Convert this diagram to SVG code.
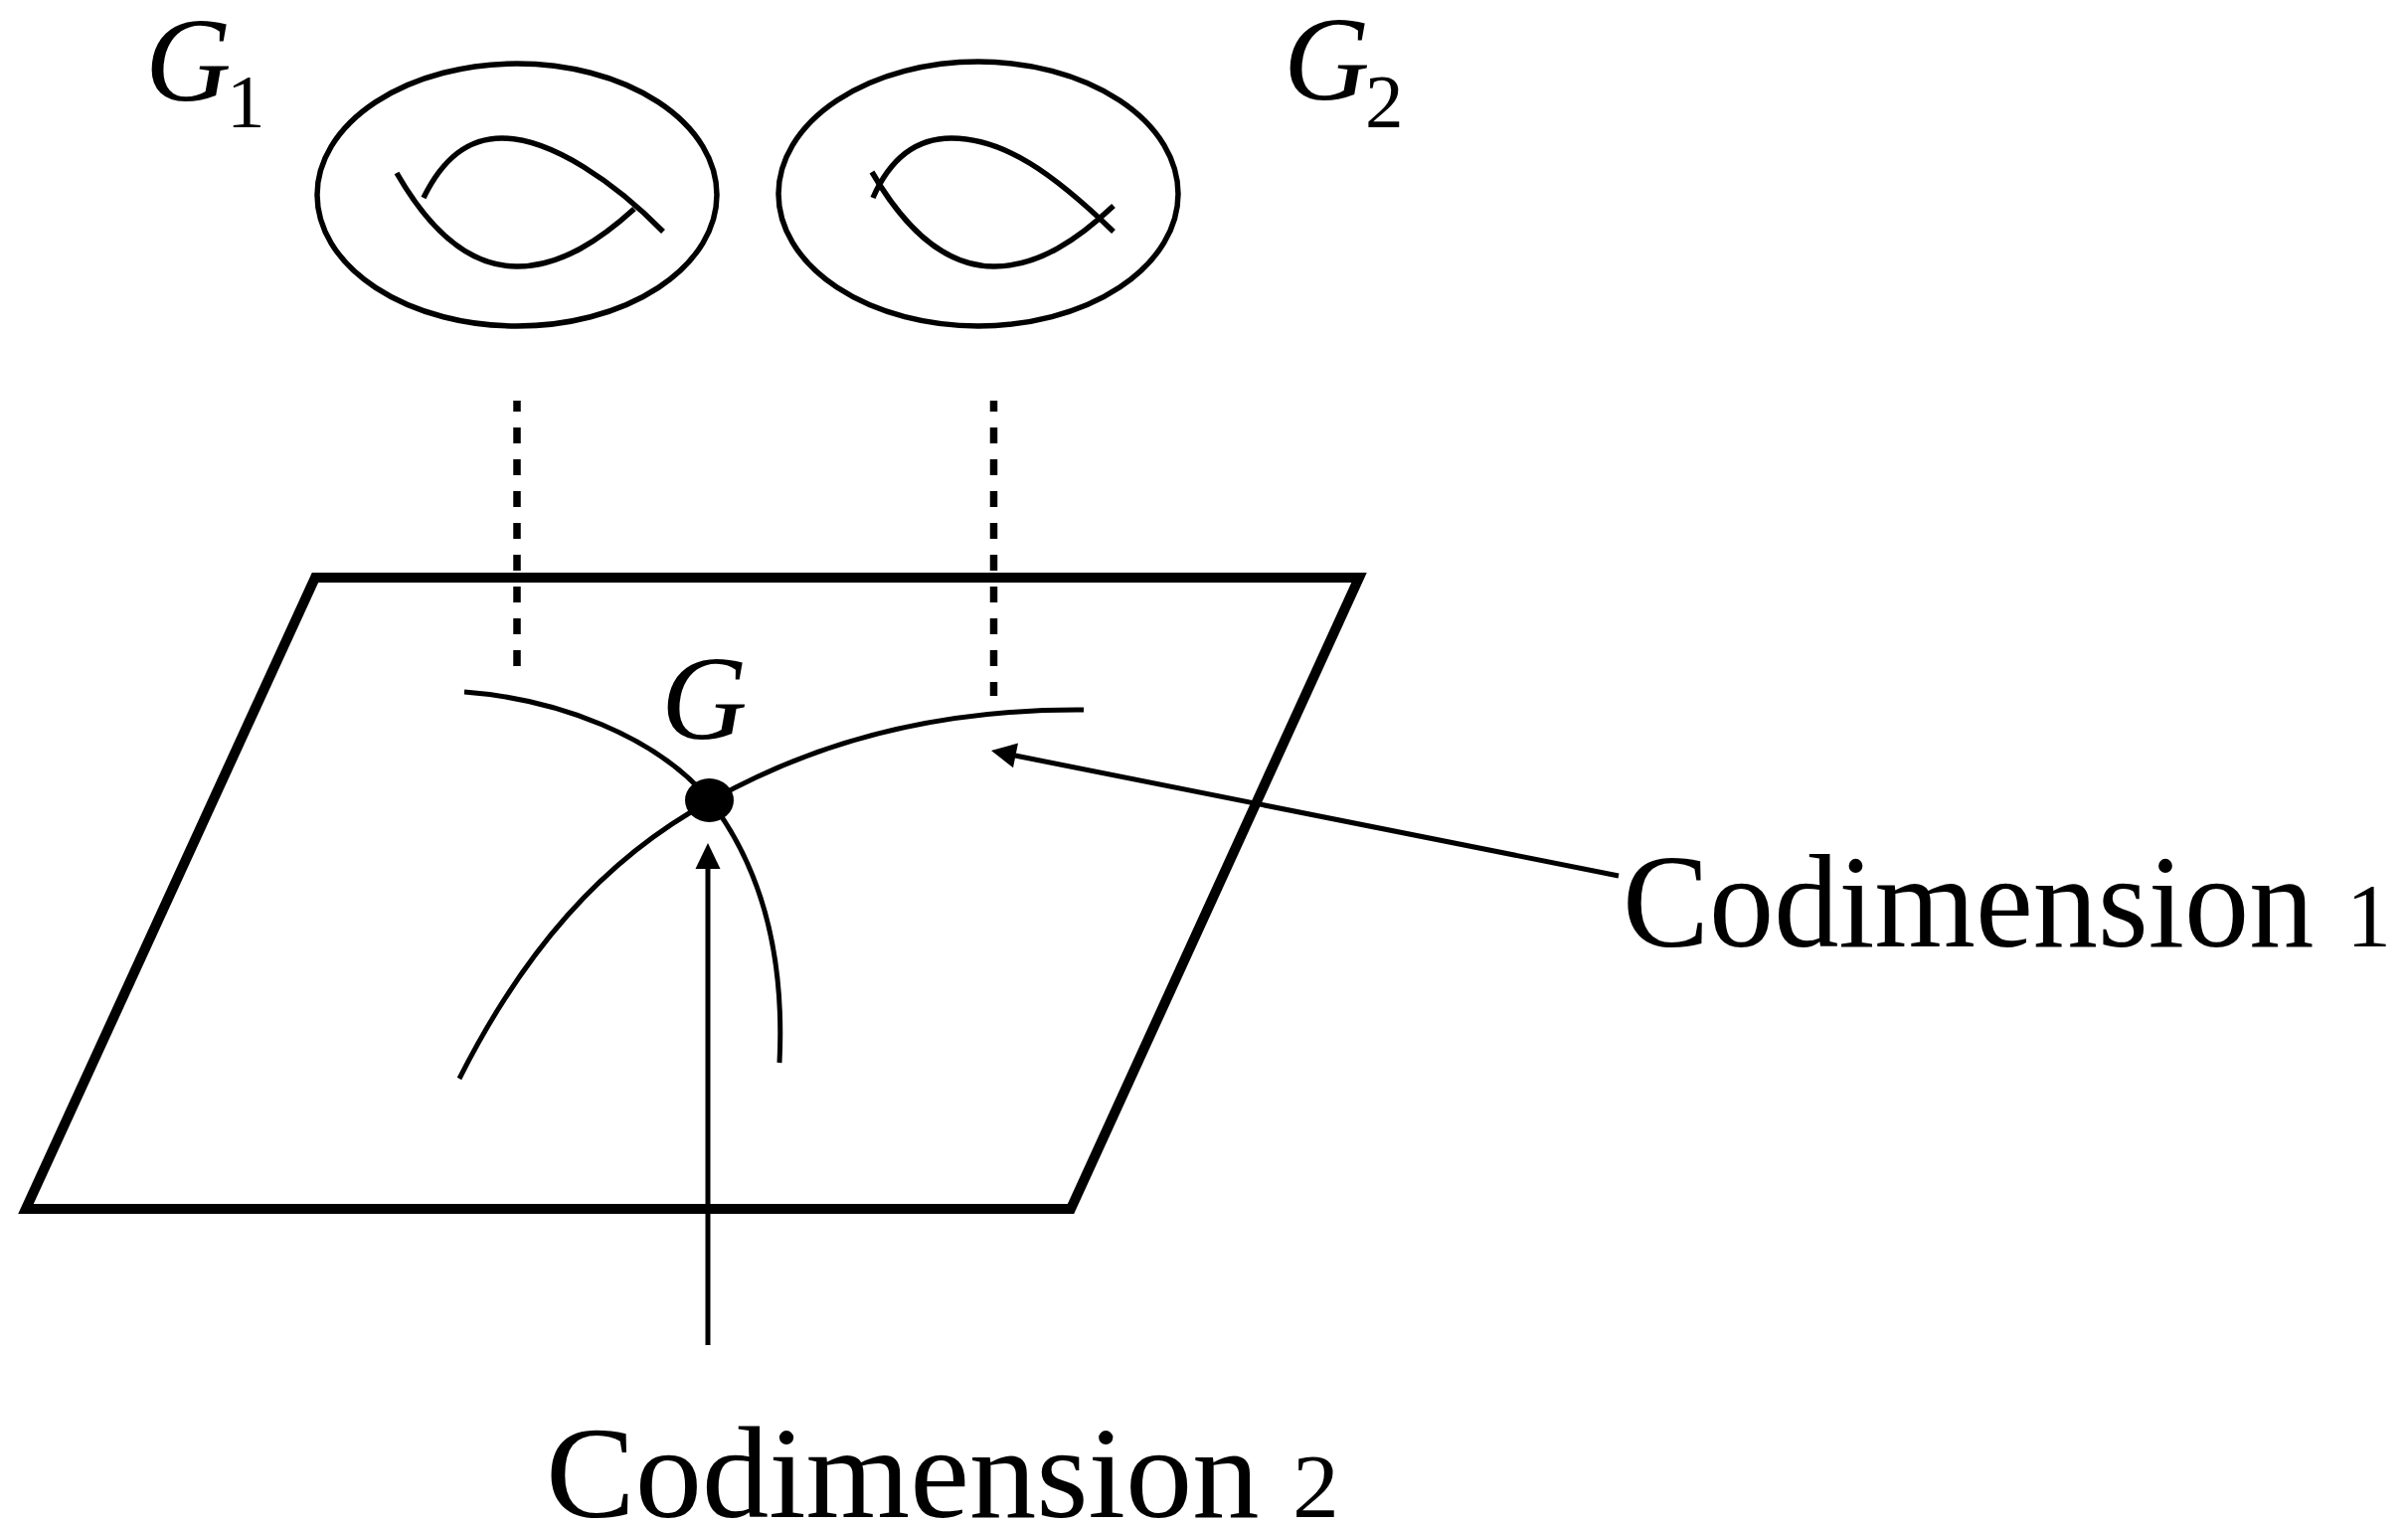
<svg xmlns="http://www.w3.org/2000/svg" width="2422" height="1536" viewBox="0 0 2422 1536">
<style>
.ln{fill:none;stroke:#000;stroke-width:5.5;stroke-linecap:butt}
.thin{fill:none;stroke:#000;stroke-width:5}
.plane{fill:none;stroke:#000;stroke-width:10;stroke-linejoin:miter}
.dash{fill:none;stroke:#000;stroke-width:7.5;stroke-dasharray:16 16;stroke-dashoffset:5}
.arr{fill:none;stroke:#000;stroke-width:5}
.head{fill:#000;stroke:none}
.lab{font-family:"Liberation Serif","Times New Roman",serif;fill:#000}
.it{font-style:italic}
</style>
<rect width="2422" height="1536" fill="#fff"/>
<g id="plane">
<polygon class="plane" points="317,581 1367,581 1077,1216 26,1216"/>
</g>
<g id="G1-torus">
<ellipse class="ln" cx="520" cy="196" rx="201" ry="132"/>
<path class="ln" d="M399,174 C430,228 470,268 520,268 C565,268 605,240 638,210"/>
<path class="ln" d="M426,199 C445,160 470,139 505,139 C555,139 620,185 667,233"/>
</g>
<g id="G2-torus">
<ellipse class="ln" cx="984" cy="195" rx="201" ry="133"/>
<path class="ln" d="M877,173 C910,230 950,268 1000,268 C1045,268 1085,240 1120,207"/>
<path class="ln" d="M1120,233 C1060,175 1010,139 957,139 C920,139 895,160 878,199"/>
</g>
<g id="curves">
<path class="thin" d="M467,696 C560,703 660,740 714,805 C760,865 790,950 784,1069"/>
<path class="thin" d="M462,1085 C525,960 605,865 714,806 C830,740 960,713 1090,714"/>
</g>
<g id="node-G">
<ellipse cx="713.5" cy="805" rx="24.5" ry="22" fill="#000"/>
</g>
<g id="connectors">
<line class="dash" x1="520" y1="403" x2="520" y2="670"/>
<line class="dash" x1="999.5" y1="403" x2="999.5" y2="700"/>
<line class="arr" x1="1628" y1="881" x2="1021" y2="760"/>
<polygon class="head" points="997,755 1024,747.6 1019,772.2"/>
<line class="arr" x1="712" y1="1353" x2="712" y2="872"/>
<polygon class="head" points="712,848 699.5,874 724.5,874"/>
</g>
<g id="labels">
<text class="lab it" x="146" y="101" font-size="120">G</text>
<text class="lab" x="228" y="128" font-size="77">1</text>
<text class="lab it" x="1291" y="100" font-size="120">G</text>
<text class="lab" x="1373" y="128" font-size="77">2</text>
<text class="lab it" x="665" y="743" font-size="120">G</text>
<text class="lab" x="1632" y="952" font-size="133" textLength="773" lengthAdjust="spacingAndGlyphs">Codimension <tspan font-size="92">1</tspan></text>
<text class="lab" x="549" y="1526" font-size="132" textLength="798" lengthAdjust="spacingAndGlyphs">Codimension <tspan font-size="92">2</tspan></text>
</g>
</svg>
